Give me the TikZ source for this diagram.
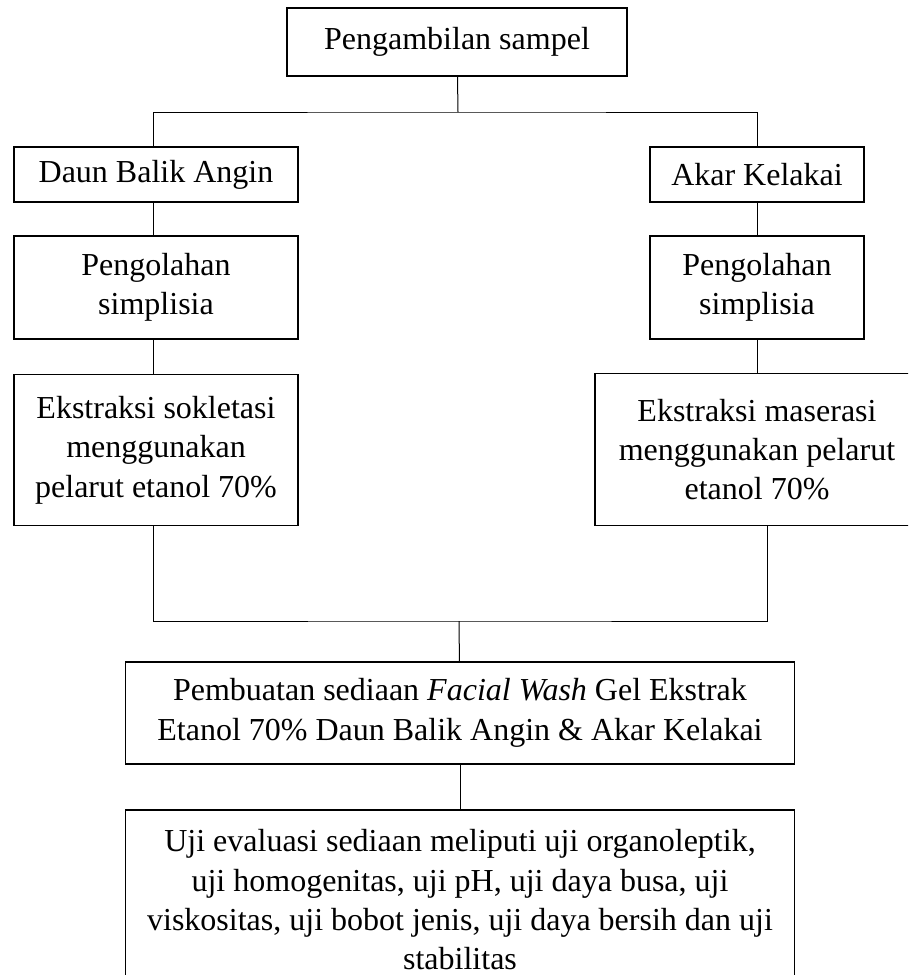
\documentclass[tikz,border=0pt]{standalone}
\usepackage{fontspec}
\setmainfont{Liberation Serif}
\begin{document}
\begin{tikzpicture}[x=0.75pt, y=-0.75pt,
	procbox/.style={draw, line width=1.1pt, align=center, inner sep=0pt, font=\fontsize{24}{29.5}\selectfont},
	link/.style={draw, line width=0.75pt}]

		\def \px {0.75pt} % one pixel of the page
		\def \LeftX {156}
		\def \RightX {757}
		\def \MidX {460}

		\useasboundingbox (0,0) rectangle (908,975);
		\clip (0,0) rectangle (908,975);

		\node (Ambil) at (457,42) [procbox, minimum width=340*\px, minimum height=68*\px]{Pengambilan sampel};
		\node (Daun) at (\LeftX,174.5) [procbox, minimum width=284*\px, minimum height=55*\px]{Daun Balik Angin};
		\node (Akar) at (\RightX,174.5) [procbox, minimum width=214*\px, minimum height=55*\px]{Akar Kelakai};
		\node (OlahL) at (\LeftX,287.5) [procbox, minimum width=284*\px, minimum height=103*\px]{Pengolahan\\simplisia};
		\node (OlahR) at (\RightX,287.5) [procbox, minimum width=214*\px, minimum height=103*\px]{Pengolahan\\simplisia};
		\node (Soklet) at (\LeftX,450) [procbox, minimum width=284*\px, minimum height=151*\px]{Ekstraksi sokletasi\\menggunakan\\pelarut etanol 70\%};
		\node (Maser) at (\RightX,449.5) [procbox, minimum width=324*\px, minimum height=152*\px]{Ekstraksi maserasi\\menggunakan pelarut\\etanol 70\%};
		\node (Buat) at (\MidX,713) [procbox, minimum width=669*\px, minimum height=102*\px]{Pembuatan sediaan \textit{Facial Wash} Gel Ekstrak\\Etanol 70\% Daun Balik Angin \& Akar Kelakai};
		\node (Uji) at (\MidX,900) [procbox, minimum width=669*\px, minimum height=180*\px]{Uji evaluasi sediaan meliputi uji organoleptik,\\uji homogenitas, uji pH, uji daya busa, uji\\viskositas, uji bobot jenis, uji daya bersih dan uji\\stabilitas};

		\coordinate (TopJoin) at (458,112);
		\coordinate (BotJoin) at (459,621);

		\draw[link] (Ambil) -- (TopJoin);
		\draw[link] ([xshift=-3*\px]Daun.north) |- (TopJoin) -| (Akar.north);
		\draw[link] ([xshift=-3*\px]Daun.south) -- ([xshift=-3*\px]OlahL.north);
		\draw[link] (Akar) -- (OlahR);
		\draw[link] ([xshift=-3*\px]OlahL.south) -- ([xshift=-3*\px]Soklet.north);
		\draw[link] (OlahR) -- (Maser);
		\draw[link] ([xshift=-3*\px]Soklet.south) |- (BotJoin) -| ([xshift=10*\px]Maser.south);
		\draw[link] (BotJoin) -- (Buat);
		\draw[link] (Buat) -- (Uji);

	\end{tikzpicture}
\end{document}
